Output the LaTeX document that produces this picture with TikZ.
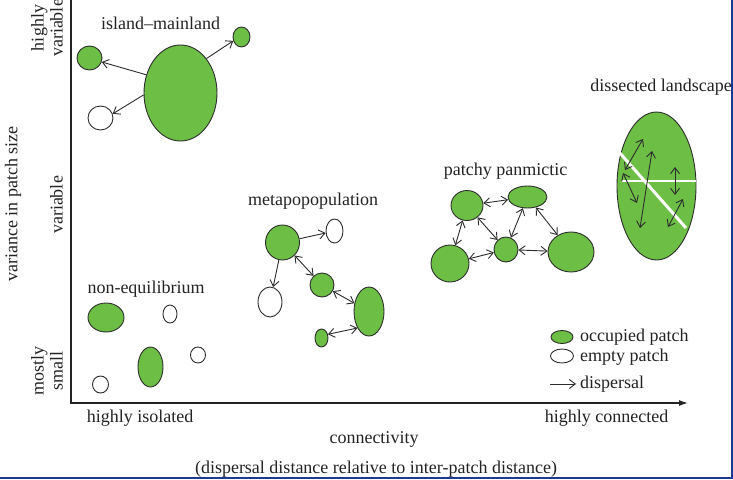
\documentclass[tikz,border=0pt]{standalone}
\usepackage{fontspec}
\setmainfont{Liberation Serif}
\usetikzlibrary{shapes.geometric,arrows.meta}
\definecolor{patchgreen}{RGB}{108,190,69}
\definecolor{patchline}{RGB}{45,45,45}
\definecolor{textgray}{RGB}{35,35,35}
\definecolor{frameblue}{RGB}{28,58,148}
\tikzset{
    patch/.style={ellipse, draw=patchline, line width=0.9pt, inner sep=0pt},
    occupied/.style={patch, fill=patchgreen},
    empty/.style={patch, fill=white},
    patchsize/.style 2 args={minimum width=#1, minimum height=#2},
    disp/.style={-{Straight Barb[length=6pt,width=9pt]}, line width=0.9pt, draw=patchline},
    bidisp/.style={{Straight Barb[length=6pt,width=9pt]}-{Straight Barb[length=6pt,width=9pt]}, line width=0.9pt, draw=patchline},
    txt/.style={text=textgray, font=\fontsize{18}{19}\selectfont, inner sep=0pt},
    grouptitle/.style={txt, anchor=base}
}
\begin{document}
\begin{tikzpicture}[x=1pt, y=-1pt]
            \useasboundingbox (0,0) rectangle (733,479);
            \draw[textgray, line width=1.3pt, -{Latex[length=9pt,width=6pt]}] (71,0) -- (71,403) -- (688,403);

            \node[txt, rotate=90, align=center, anchor=south] (hivar) at (63,28) {highly\\variable};
            \node[txt, rotate=90] (varsize) at (13,204) {variance in patch size};
            \node[txt, rotate=90, anchor=south] (var) at (63,205) {variable};
            \node[txt, rotate=90, align=center, anchor=south] (mostsmall) at (63,371) {mostly\\small};
            \node[grouptitle] (isol) at (140,422) {highly isolated};
            \node[grouptitle] (conn) at (606.5,422) {highly connected};
            \node[grouptitle] (connectivity) at (374,443) {connectivity};
            \node[grouptitle] (ratio) at (376,473) {(dispersal distance relative to inter-patch distance)};

            \node[grouptitle] (islt) at (160.5,29) {island--mainland};
            \node[occupied, patchsize={73pt}{96pt}] (main) at (180.5,93) {};
            \node[occupied, patchsize={25pt}{24pt}] (isl1) at (89.5,58) {};
            \node[occupied, patchsize={17pt}{20pt}] (isl2) at (241.5,37) {};
            \node[empty, patchsize={25pt}{24pt}] (isl3) at (100.5,118) {};
            \draw[disp] (main.152) -- (isl1.-18);
            \draw[disp] (main.183) -- (isl3.19);
            \draw[disp] (main.53) -- (isl2.205);

            \node[grouptitle] (metat) at (313,205) {metapopopulation};
            \node[occupied, patchsize={34pt}{35pt}] (mA) at (282.5,242.5) {};
            \node[empty, patchsize={17pt}{24pt}] (mB) at (334.5,231) {};
            \node[empty, patchsize={24pt}{30pt}] (mC) at (270,302) {};
            \node[occupied, patchsize={24pt}{24pt}] (mD) at (322,285) {};
            \node[occupied, patchsize={30pt}{49pt}] (mE) at (369,311.5) {};
            \node[occupied, patchsize={13pt}{18pt}] (mF) at (321.5,338) {};
            \draw[disp] (mA) -- (mB);
            \draw[disp] (mA) -- (mC);
            \draw[bidisp] (mA) -- (mD);
            \draw[bidisp] (mD) -- (mE);
            \draw[bidisp] (mF.30) -- (mE.235);

            \node[grouptitle] (patchyt) at (505.5,175) {patchy panmictic};
            \node[occupied, patchsize={32pt}{30pt}] (pA) at (467,205.5) {};
            \node[occupied, patchsize={39pt}{22pt}] (pB) at (527.5,197) {};
            \node[occupied, patchsize={38pt}{37pt}] (pC) at (450,263.5) {};
            \node[occupied, patchsize={24pt}{25pt}] (pD) at (506,249.5) {};
            \node[occupied, patchsize={46pt}{40pt}] (pE) at (571,252) {};
            \draw[bidisp] (pA) -- (pB);
            \draw[bidisp] (pA) -- (pC);
            \draw[bidisp] (pA) -- (pD);
            \draw[bidisp] (pB) -- (pD);
            \draw[bidisp] (pB) -- (pE);
            \draw[bidisp] (pD) -- (pC);
            \draw[bidisp] (pD) -- (pE);

            \node[grouptitle] (dist) at (661,91) {dissected landscape};
            \node[occupied, patchsize={79pt}{148pt}] (dis) at (656.5,186) {};
            \draw[white, line width=1.4pt] (622,181) -- (696,181);
            \draw[white, line width=3pt] (619,152) -- (686,228);
            \draw[bidisp] (643,139) -- (625,170);
            \draw[bidisp] (652,151) -- (640,228);
            \draw[bidisp] (623,173) -- (637,203);
            \draw[bidisp] (675,167) -- (675,195);
            \draw[bidisp] (683,199) -- (668,227);

            \node[grouptitle] (noneqt) at (146,293) {non-equilibrium};
            \node[occupied, patchsize={36pt}{29pt}] (nA) at (106,317.5) {};
            \node[empty, patchsize={14pt}{18pt}] (nB) at (170,314) {};
            \node[occupied, patchsize={25pt}{40pt}] (nC) at (150.5,367) {};
            \node[empty, patchsize={15pt}{16pt}] (nD) at (198,355) {};
            \node[empty, patchsize={16pt}{17pt}] (nE) at (100.5,384.5) {};

            \node[occupied, patchsize={22pt}{13pt}] (legocc) at (562,337) {};
            \node[empty, patchsize={23pt}{14pt}] (legemp) at (562,356) {};
            \coordinate (legfrom) at (550,384);
            \coordinate (legto) at (576,384);
            \draw[disp] (legfrom) -- (legto);
            \node[txt, anchor=base west] (occt) at (580,341) {occupied patch};
            \node[txt, anchor=base west] (empt) at (580,361) {empty patch};
            \node[txt, anchor=base west] (dispt) at (580,388) {dispersal};

            \fill[frameblue] (730.5,0) rectangle (733,479);
            \fill[frameblue] (0,476.5) rectangle (733,479);
        \end{tikzpicture}
\end{document}
